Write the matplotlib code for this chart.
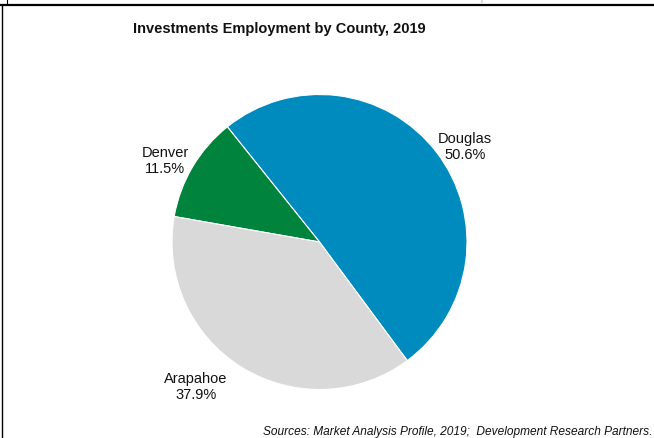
import matplotlib
matplotlib.use("Agg")
import matplotlib.pyplot as plt
from matplotlib.lines import Line2D

plt.rcParams['font.family'] = ['Liberation Sans', 'DejaVu Sans']

counties = ["Douglas", "Denver", "Arapahoe"]
shares = [50.6, 11.5, 37.9]
colors = ["#008BBF", "#00843D", "#D9D9D9"]
title = "Investments Employment by County, 2019"
source = "Sources: Market Analysis Profile, 2019;  Development Research Partners."

W, H = 654, 438
fig = plt.figure(figsize=(W / 100, H / 100), dpi=100)

def fx(px):
    return px / W

def fy(py):
    return 1 - py / H

# pie axes
cx, cy, R = 319.5, 242, 147.5
ax = fig.add_axes([fx(cx - R), fy(cy + R), 2 * R / W, 2 * R / H])
ax.pie(shares, colors=colors, startangle=-53.5, counterclock=True,
       radius=1, wedgeprops=dict(edgecolor="white", linewidth=0.8))
ax.set_xlim(-1, 1)
ax.set_ylim(-1, 1)
ax.set_aspect("equal")
ax.axis("off")

# labels
label_pos = [(465, 147), (165, 161), (196, 387)]
for name, val, (lx, ly) in zip(counties, shares, label_pos):
    fig.text(fx(lx), fy(ly), f"{name}\n{val:.1f}%", ha="center", va="center",
             fontsize=10.5, color="#111111", linespacing=1.2)

fig.text(fx(279.5), fy(29.5), title, ha="center", va="center",
         fontsize=10.5, fontweight="bold", color="#111111")

fig.text(fx(652), fy(432), source, ha="right", va="center",
         fontsize=8.6, style="italic", color="#111111")

# faint cropped text at top
fig.text(fx(654), fy(-3.5), "Development Research Partners", ha="right",
         va="center", fontsize=11, color="#C8C8C8")

# border lines
fig.add_artist(Line2D([0, 1], [fy(4.5), fy(4.5)], color="black", linewidth=1.6))
fig.add_artist(Line2D([fx(1.5), fx(1.5)], [fy(5), 0], color="black", linewidth=1.0))
fig.add_artist(Line2D([fx(7), fx(7)], [1, fy(4)], color="black", linewidth=0.8))

fig.savefig("out.png", dpi=100, facecolor="white")
